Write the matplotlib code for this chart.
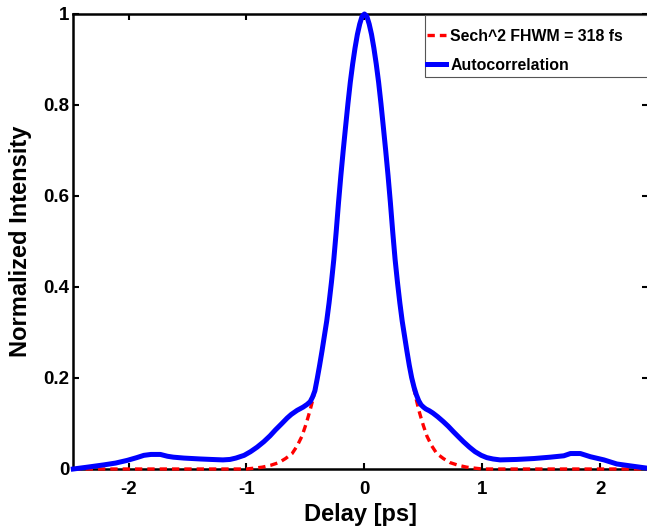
"""Autocorrelation trace with sech^2 fit, MATLAB-style figure."""

import matplotlib
matplotlib.use("Agg")
import matplotlib.pyplot as plt
from matplotlib.patches import Rectangle

plt.rcParams["font.family"] = ["Liberation Sans", "DejaVu Sans"]
plt.rcParams["font.weight"] = "bold"
plt.rcParams["axes.unicode_minus"] = False

# Measured autocorrelation (delay in ps, normalized intensity)
delay_ac = [-2.468, -2.35, -2.21, -2.11, -2.01, -1.93, -1.87, -1.81, -1.73, -1.67,
            -1.62, -1.53, -1.39, -1.30, -1.20, -1.14, -1.09, -1.02, -0.966, -0.91,
            -0.853, -0.80, -0.754, -0.70, -0.655, -0.62, -0.57, -0.52, -0.486, -0.46,
            -0.44, -0.42, -0.40, -0.38, -0.36, -0.34, -0.32, -0.30, -0.28, -0.26,
            -0.24, -0.22, -0.20, -0.18, -0.16, -0.14, -0.12, -0.10, -0.08, -0.06,
            -0.04, -0.02, 0.0, 0.02, 0.04, 0.06, 0.08, 0.10, 0.12, 0.14,
            0.16, 0.18, 0.20, 0.22, 0.24, 0.26, 0.28, 0.30, 0.32, 0.34,
            0.36, 0.38, 0.40, 0.42, 0.44, 0.46, 0.48, 0.50, 0.52, 0.55,
            0.58, 0.62, 0.669, 0.71, 0.754, 0.80, 0.839, 0.89, 0.938, 0.99,
            1.037, 1.09, 1.15, 1.29, 1.435, 1.576, 1.69, 1.746, 1.83, 1.915,
            2.03, 2.14, 2.25, 2.405]
intensity_ac = [0.0, 0.004, 0.009, 0.013, 0.019, 0.025, 0.030, 0.032, 0.032, 0.028,
                0.026, 0.024, 0.022, 0.021, 0.020, 0.021, 0.024, 0.030, 0.038, 0.048,
                0.060, 0.073, 0.086, 0.100, 0.112, 0.120, 0.129, 0.136, 0.142, 0.148,
                0.158, 0.172, 0.199, 0.228, 0.259, 0.292, 0.325, 0.365, 0.410, 0.460,
                0.520, 0.585, 0.645, 0.700, 0.752, 0.803, 0.850, 0.890, 0.925, 0.955,
                0.978, 0.995, 1.0, 0.995, 0.978, 0.955, 0.925, 0.890, 0.850, 0.803,
                0.752, 0.700, 0.645, 0.585, 0.520, 0.460, 0.410, 0.365, 0.325, 0.292,
                0.259, 0.228, 0.201, 0.180, 0.163, 0.150, 0.141, 0.136, 0.132, 0.128,
                0.123, 0.115, 0.104, 0.094, 0.082, 0.070, 0.060, 0.048, 0.038, 0.030,
                0.025, 0.022, 0.020, 0.021, 0.023, 0.026, 0.029, 0.034, 0.034, 0.027,
                0.020, 0.011, 0.007, 0.0015]

# Sech^2 fit (central part is hidden under the trace)
delay_fit = [-2.468, -1.0, -0.93, -0.867, -0.797, -0.726, -0.669, -0.613, -0.57, -0.53,
             -0.50, -0.48, -0.46, -0.44, -0.42, -0.40, -0.38, -0.36, -0.34, -0.32,
             -0.30, -0.28, -0.26, -0.24, -0.22, -0.20, -0.18, -0.16, -0.14, -0.12,
             -0.10, -0.08, -0.06, -0.04, -0.02, 0.0, 0.02, 0.04, 0.06, 0.08,
             0.10, 0.12, 0.14, 0.16, 0.18, 0.20, 0.22, 0.24, 0.26, 0.28,
             0.30, 0.32, 0.34, 0.36, 0.38, 0.40, 0.42, 0.44, 0.46, 0.48,
             0.50, 0.53, 0.57, 0.613, 0.669, 0.726, 0.797, 0.867, 0.93, 1.0,
             2.405]
intensity_fit = [0.0, 0.0, 0.002, 0.004, 0.008, 0.014, 0.023, 0.034, 0.051, 0.072,
                 0.095, 0.112, 0.130, 0.150, 0.172, 0.199, 0.228, 0.259, 0.292, 0.325,
                 0.365, 0.410, 0.460, 0.520, 0.585, 0.645, 0.700, 0.752, 0.803, 0.850,
                 0.890, 0.925, 0.955, 0.978, 0.995, 1.0, 0.995, 0.978, 0.955, 0.925,
                 0.890, 0.850, 0.803, 0.752, 0.700, 0.645, 0.585, 0.520, 0.460, 0.410,
                 0.365, 0.325, 0.292, 0.259, 0.228, 0.201, 0.175, 0.152, 0.130, 0.112,
                 0.095, 0.072, 0.051, 0.034, 0.023, 0.014, 0.008, 0.004, 0.002, 0.0,
                 0.0]

x_ticks = [-2, -1, 0, 1, 2]
y_ticks = [0, 0.2, 0.4, 0.6, 0.8, 1]

fig = plt.figure(figsize=(6.47, 5.30), dpi=100)
ax = fig.add_axes([0.1133, 0.1151, 0.8885, 0.8585])

ax.plot(delay_fit, intensity_fit, color="red", lw=2.4, ls=(0, (2.2, 1.5)),
        label="Sech^2 FHWM = 318 fs", clip_on=False, zorder=3)
ax.plot(delay_ac, intensity_ac, color="blue", lw=3.6, solid_joinstyle="round",
        label="Autocorrelation", clip_on=False, zorder=4)

ax.set_xlim(-2.468, 2.405)
ax.set_ylim(0, 1)
ax.set_xticks(x_ticks)
ax.set_xticklabels([f"{t:g}" for t in x_ticks])
ax.set_yticks(y_ticks)
ax.set_yticklabels([f"{t:g}" for t in y_ticks])
ax.tick_params(direction="in", length=4, width=1.5, top=True, right=True,
               labelsize=13.5)
ax.tick_params(axis="x", pad=9)
ax.tick_params(axis="y", pad=3)
for spine in ax.spines.values():
    spine.set_linewidth(1.8)

ax.set_xlabel("Delay [ps]", fontsize=17, fontweight="bold", labelpad=3)
ax.set_ylabel("Normalized Intensity", fontsize=17, fontweight="bold", labelpad=8)

# legend box runs off the right edge of the figure, as in the original export
box = Rectangle((425 / 647, 1 - 77 / 530), 0.4, 62 / 530, transform=fig.transFigure,
                facecolor="white", edgecolor="#555555", lw=0.8, zorder=5,
                clip_on=False)
ax.add_patch(box)
leg = ax.legend(loc="upper left", bbox_to_anchor=(421 / 647, 1 - 23 / 530),
                bbox_transform=fig.transFigure, fontsize=11.4, handlelength=1.25,
                handletextpad=0.25, borderaxespad=0, borderpad=0.35,
                labelspacing=0.9, frameon=False)
leg.set_zorder(6)

fig.savefig("out.png", dpi=100)
